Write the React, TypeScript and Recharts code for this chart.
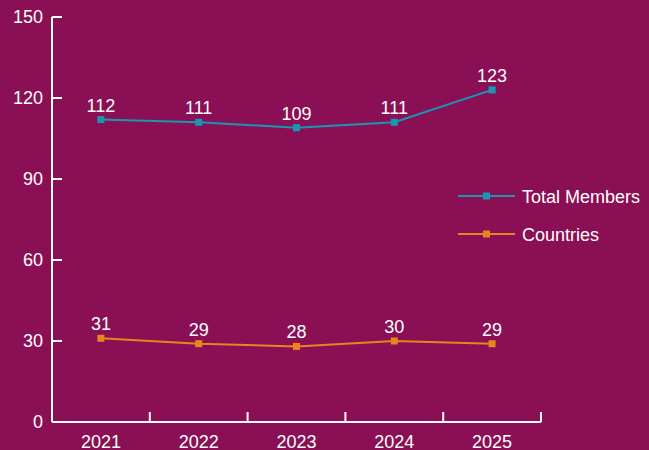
import { LineChart, Line, XAxis, YAxis, Legend, LabelList } from 'recharts';

const years = ['2021', '2022', '2023', '2024', '2025'];
const totalMembers = [112, 111, 109, 111, 123];
const countries = [31, 29, 28, 30, 29];
const yTicks = [0, 30, 60, 90, 120, 150];

const series = [
  { key: 'members', name: 'Total Members', color: '#1797B2' },
  { key: 'countries', name: 'Countries', color: '#E9841F' },
];

const BG = '#8B0F54';
const FONT = '"Liberation Sans", Arial, sans-serif';
const FS = 18;
const W = 649;
const H = 450;
const MARGIN = { top: 17, right: 108, bottom: 0, left: 0 };
const Y_AXIS_W = 52;

const data = years.map((year, i) => ({
  year,
  members: totalMembers[i],
  countries: countries[i],
}));

// half a category band, used to put the x tick marks between the years
const halfBand = (W - MARGIN.left - MARGIN.right - Y_AXIS_W) / years.length / 2;

function SquareDot(props: any) {
  const { cx, cy, stroke, index } = props;
  if (cx == null || cy == null) return null;
  return <rect key={index} x={cx - 3.5} y={cy - 3.5} width={7} height={7} fill={stroke} />;
}

function YearTick(props: any) {
  const { x, y, payload } = props;
  const axisY = y - 8;
  return (
    <g>
      <line x1={x + halfBand} x2={x + halfBand} y1={axisY} y2={axisY - 10} stroke="#fff" strokeWidth={2} />
      <text x={x} y={y} dy={17.5} textAnchor="middle" fill="#fff" fontSize={FS} fontFamily={FONT}>
        {payload.value}
      </text>
    </g>
  );
}

function LegendContent() {
  return (
    <svg width={193} height={62}>
      {series.map((s, i) => {
        const cy = 12 + i * 38;
        return (
          <g key={s.key}>
            <line x1={2} x2={59} y1={cy} y2={cy} stroke={s.color} strokeWidth={2} />
            <rect x={27} y={cy - 3.5} width={7} height={7} fill={s.color} />
            <text x={66} y={cy} dy={6.5} fill="#fff" fontSize={FS} fontFamily={FONT}>
              {s.name}
            </text>
          </g>
        );
      })}
    </svg>
  );
}

export default function App() {
  return (
    <div style={{ position: 'absolute', left: 0, top: 0, width: W, height: H, background: BG, fontFamily: FONT }}>
      <LineChart width={W} height={H} data={data} margin={MARGIN}>
        <XAxis
          dataKey="year"
          scale="band"
          height={28}
          axisLine={{ stroke: '#fff', strokeWidth: 2 }}
          tickLine={false}
          tickSize={0}
          tickMargin={8}
          tick={<YearTick />}
          interval={0}
        />
        <YAxis
          width={Y_AXIS_W}
          domain={[0, 150]}
          ticks={yTicks}
          interval={0}
          axisLine={{ stroke: '#fff', strokeWidth: 2 }}
          tickLine={{ stroke: '#fff', strokeWidth: 2 }}
          tickSize={-10}
          tickMargin={19}
          tick={{ fill: '#fff', fontSize: FS, fontFamily: FONT }}
        />
        <Legend
          layout="vertical"
          align="center"
          verticalAlign="middle"
          wrapperStyle={{ left: 456, top: 184, width: 193 }}
          content={<LegendContent />}
        />
        {series.map((s) => (
          <Line
            key={s.key}
            dataKey={s.key}
            name={s.name}
            stroke={s.color}
            strokeWidth={2}
            type="linear"
            dot={SquareDot}
            activeDot={false}
            isAnimationActive={false}
          >
            <LabelList dataKey={s.key} position="top" offset={8} fill="#fff" fontSize={FS} fontFamily={FONT} />
          </Line>
        ))}
      </LineChart>
    </div>
  );
}
